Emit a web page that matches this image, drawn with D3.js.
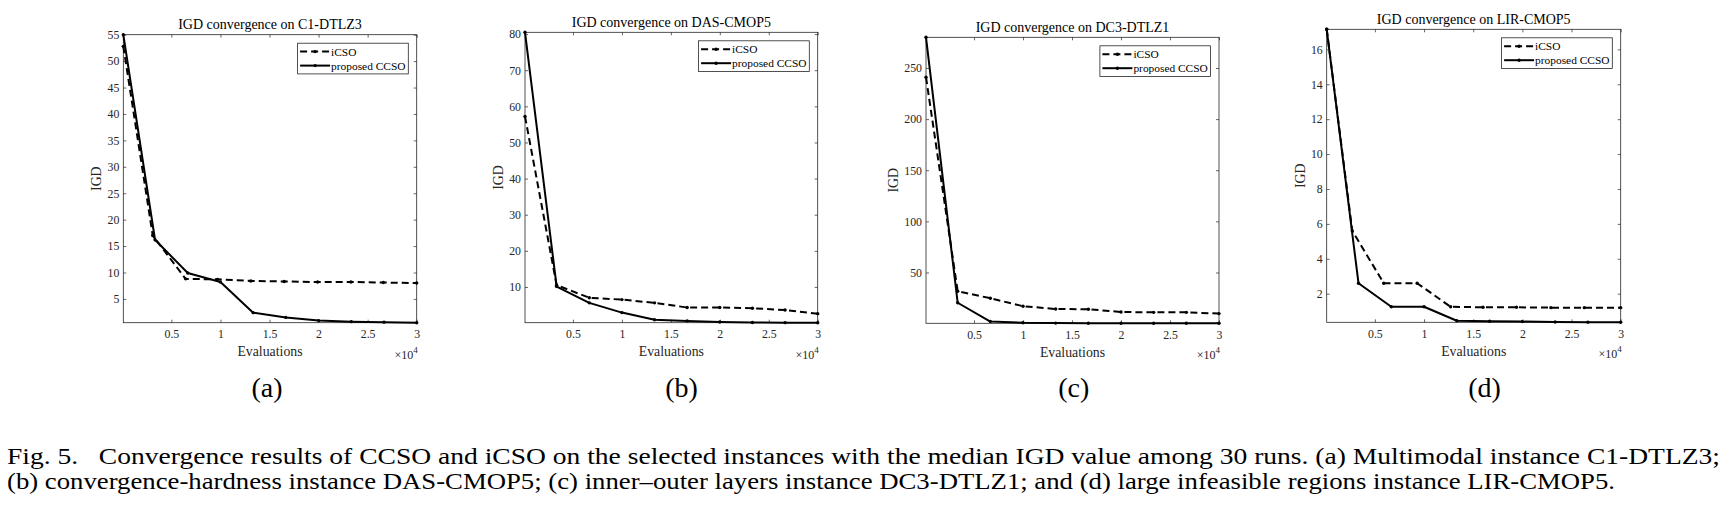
<!DOCTYPE html>
<html><head><meta charset="utf-8">
<script src="https://cdn.jsdelivr.net/npm/d3@7"></script>
<style>
body{margin:0;background:#fff}
text{font-family:"Liberation Serif","Times New Roman",serif}
</style>
</head><body>
<svg id="chart" width="1732" height="514"></svg>
<script>
// ---------------- data ----------------
const titles = ["IGD convergence on C1-DTLZ3","IGD convergence on DAS-CMOP5","IGD convergence on DC3-DTLZ1","IGD convergence on LIR-CMOP5"];
const panelLetters = ["(a)","(b)","(c)","(d)"];
const seriesNames = ["iCSO","proposed CCSO"];
const xTicks = [5000,10000,15000,20000,25000,30000];
const xTickLabels = ["0.5","1","1.5","2","2.5","3"];
const evals = [100,3333,6667,10000,13333,16667,20000,23333,26667,30000];

// (a) C1-DTLZ3
const xA_icso = [100,3100,6450,9700,13100,16500,19900,23300,26600,30000];
const yA_icso = [52.8,17.0,8.8,8.7,8.4,8.3,8.2,8.2,8.1,8.0];
const yA_ccso = [55.0,16.2,9.9,8.2,2.4,1.5,0.9,0.7,0.6,0.5];
const yTicksA = [5,10,15,20,25,30,35,40,45,50,55];
// (b) DAS-CMOP5
const yB_icso = [57.2,10.5,7.0,6.5,5.6,4.3,4.3,4.1,3.6,2.6];
const yB_ccso = [80.5,10.1,5.6,2.9,0.9,0.6,0.3,0.15,0.12,0.1];
const yTicksB = [10,20,30,40,50,60,70,80];
// (c) DC3-DTLZ1
const yC_icso = [241,31.7,24.8,17.0,14.3,14.0,11.4,11.0,11.0,9.8];
const yC_ccso = [280,20.4,2.0,0.8,0.5,0.4,0.35,0.3,0.3,0.3];
const yTicksC = [50,100,150,200,250];
// (d) LIR-CMOP5
const xD_icso = [100,2700,5900,9300,12700,16000,19400,22900,26300,30000];
const yD_icso = [17.15,5.6,2.6,2.6,1.25,1.22,1.22,1.2,1.2,1.2];
const yD_ccso = [17.15,2.6,1.25,1.25,0.45,0.42,0.4,0.38,0.37,0.36];
const yTicksD = [2,4,6,8,10,12,14,16];

const captionLines = [
 "Fig. 5.   Convergence results of CCSO and iCSO on the selected instances with the median IGD value among 30 runs. (a) Multimodal instance C1-DTLZ3;",
 "(b) convergence-hardness instance DAS-CMOP5; (c) inner\u2013outer layers instance DC3-DTLZ1; and (d) large infeasible regions instance LIR-CMOP5."
];

const panels = [
 {title:titles[0], letter:panelLetters[0], icso:{x:xA_icso,y:yA_icso}, ccso:{x:evals,y:yA_ccso}, yTicks:yTicksA},
 {title:titles[1], letter:panelLetters[1], icso:{x:evals,y:yB_icso}, ccso:{x:evals,y:yB_ccso}, yTicks:yTicksB},
 {title:titles[2], letter:panelLetters[2], icso:{x:evals,y:yC_icso}, ccso:{x:evals,y:yC_ccso}, yTicks:yTicksC},
 {title:titles[3], letter:panelLetters[3], icso:{x:xD_icso,y:yD_icso}, ccso:{x:evals,y:yD_ccso}, yTicks:yTicksD}
];

// ---------------- layout ----------------
const layout = [
 {L:123.3, R:416.7, T:34.7, B:322.7, ylabOff:26.6, letterX:267},
 {L:525.0, R:817.7, T:32.3, B:322.7, ylabOff:26.7, letterX:681.5},
 {L:926.0, R:1219.0, T:37.3, B:323.3, ylabOff:32.7, letterX:1073.7},
 {L:1326.7, R:1620.7, T:29.3, B:322.3, ylabOff:26.7, letterX:1484.6}
];
const axisColor = "#262626";
const svg = d3.select("#chart");

panels.forEach((p, i) => {
  const lo = layout[i];
  const g = svg.append("g");
  const allX = p.icso.x.concat(p.ccso.x);
  const allY = p.icso.y.concat(p.ccso.y);
  const x = d3.scaleLinear().domain(d3.extent(allX)).range([lo.L, lo.R]);
  const y = d3.scaleLinear().domain(d3.extent(allY)).range([lo.B, lo.T]);

  const styleAxis = sel => {
    sel.select(".domain").remove();
    sel.selectAll("line").attr("stroke", axisColor).attr("stroke-width", 0.7);
    sel.selectAll("text").attr("fill", axisColor).style("font-family", '"Liberation Serif",serif').style("font-size", "11.8px");
  };
  g.append("g").attr("transform", `translate(0,${lo.B})`)
    .call(d3.axisBottom(x).tickValues(xTicks).tickFormat((d, k) => xTickLabels[k]).tickSizeInner(-3).tickSizeOuter(0).tickPadding(7))
    .call(styleAxis);
  g.append("g").attr("transform", `translate(0,${lo.T})`)
    .call(d3.axisTop(x).tickValues(xTicks).tickFormat("").tickSizeInner(-3).tickSizeOuter(0))
    .call(styleAxis);
  g.append("g").attr("transform", `translate(${lo.L},0)`)
    .call(d3.axisLeft(y).tickValues(p.yTicks).tickFormat(d3.format("d")).tickSizeInner(-3).tickSizeOuter(0).tickPadding(4))
    .call(styleAxis);
  g.append("g").attr("transform", `translate(${lo.R},0)`)
    .call(d3.axisRight(y).tickValues(p.yTicks).tickFormat("").tickSizeInner(-3).tickSizeOuter(0))
    .call(styleAxis);

  g.append("rect").attr("x", lo.L).attr("y", lo.T).attr("width", lo.R - lo.L).attr("height", lo.B - lo.T)
    .attr("fill", "none").attr("stroke", axisColor).attr("stroke-width", 0.8);

  const line = d3.line().x(d => x(d[0])).y(d => y(d[1]));
  const series = [
    {pts: d3.zip(p.icso.x, p.icso.y), dash: "7,4"},
    {pts: d3.zip(p.ccso.x, p.ccso.y), dash: null}
  ];
  series.forEach(s => {
    g.append("path").datum(s.pts).attr("d", line).attr("fill", "none")
      .attr("stroke", "#000").attr("stroke-width", 2).attr("stroke-dasharray", s.dash)
      .attr("stroke-linejoin", "round");
    g.selectAll(null).data(s.pts).enter().append("circle")
      .attr("cx", d => x(d[0])).attr("cy", d => y(d[1])).attr("r", 1.7).attr("fill", "#000");
  });

  g.append("text").attr("x", (lo.L + lo.R) / 2).attr("y", lo.T - 5.5).attr("text-anchor", "middle")
    .style("font-size", "14px").attr("fill", "#000").text(p.title);
  g.append("text").attr("x", (lo.L + lo.R) / 2).attr("y", lo.B + 33.5).attr("text-anchor", "middle")
    .style("font-size", "13.8px").attr("fill", axisColor).text("Evaluations");
  const ex = g.append("text").attr("x", lo.R + 1).attr("y", lo.B + 36).attr("text-anchor", "end")
    .style("font-size", "12px").attr("fill", axisColor);
  ex.append("tspan").text("\u00d710");
  ex.append("tspan").attr("dy", -6).style("font-size", "9px").text("4");
  const cy = (lo.T + lo.B) / 2;
  g.append("text").attr("transform", `translate(${lo.L - lo.ylabOff},${cy}) rotate(-90)`)
    .attr("text-anchor", "middle").attr("dominant-baseline", "central")
    .style("font-size", "13.8px").attr("fill", axisColor).text("IGD");

  const lw = 110.7, lh = 30.7;
  const lx = lo.R - 8.4 - lw, ly = lo.T + 8.5;
  const lg = g.append("g");
  lg.append("rect").attr("x", lx).attr("y", ly).attr("width", lw).attr("height", lh)
    .attr("fill", "#fff").attr("stroke", axisColor).attr("stroke-width", 0.8);
  series.forEach((s, k) => {
    const ry = ly + 8.4 + k * 14;
    lg.append("line").attr("x1", lx + 2.5).attr("x2", lx + 32.5).attr("y1", ry).attr("y2", ry)
      .attr("stroke", "#000").attr("stroke-width", 2).attr("stroke-dasharray", s.dash);
    lg.append("circle").attr("cx", lx + 17.5).attr("cy", ry).attr("r", 1.7).attr("fill", "#000");
    lg.append("text").attr("x", lx + 33.5).attr("y", ry).attr("dominant-baseline", "central")
      .style("font-size", "11.4px").attr("fill", "#000").text(seriesNames[k]);
  });

  svg.append("text").attr("x", lo.letterX).attr("y", 397).attr("text-anchor", "middle")
    .style("font-size", "28px").attr("fill", "#000").text(p.letter);
});

const capWidths = [1713, 1608];
captionLines.forEach((t, k) => {
  svg.append("text").attr("x", 7).attr("y", 463.5 + k * 25.6)
    .style("font-size", "23px").attr("fill", "#000")
    .attr("textLength", capWidths[k]).attr("lengthAdjust", "spacingAndGlyphs")
    .attr("xml:space", "preserve").text(t);
});
</script>
</body></html>
